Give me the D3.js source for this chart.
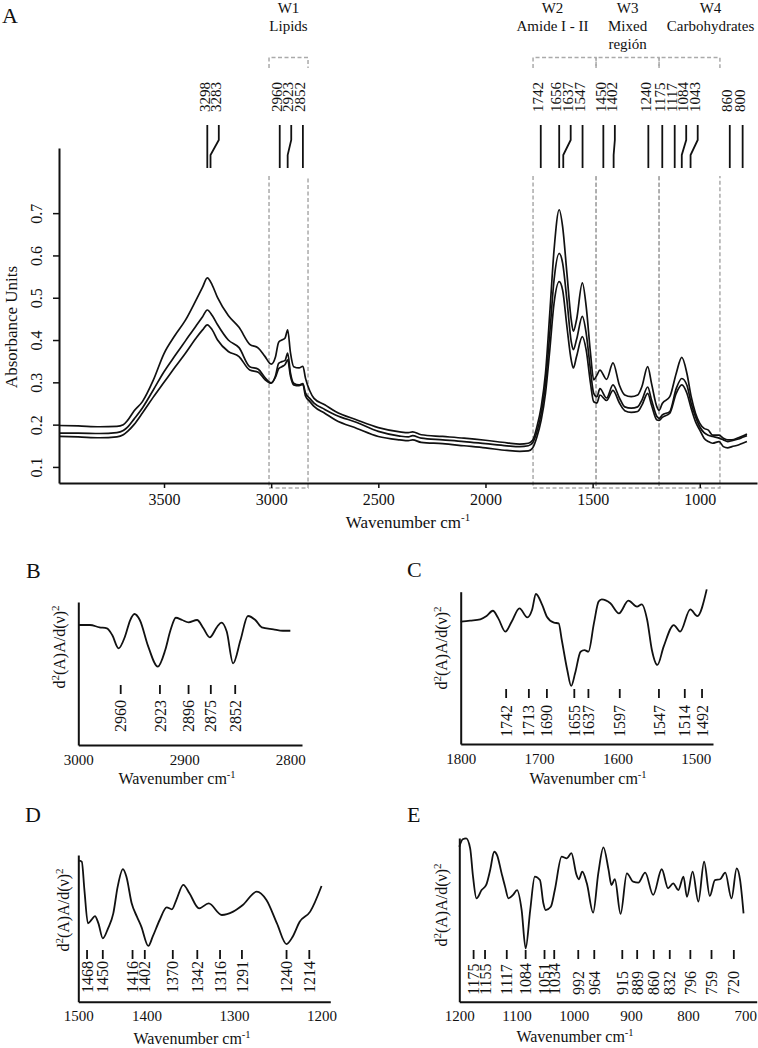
<!DOCTYPE html>
<html><head><meta charset="utf-8">
<script src="https://cdn.jsdelivr.net/npm/d3@7"></script>
<style>
html,body{margin:0;padding:0;background:#fff;}
svg{display:block;}
svg text{font-family:"Liberation Serif","Tinos","Times New Roman","DejaVu Serif","Noto Serif",serif;}
</style></head><body>
<svg id="fig" width="758" height="1048"></svg>
<script>
// ================= DATA =================
// Panel A: FTIR absorbance spectra (three samples)
const wavenumberA = [3990,3900,3800,3720,3690,3670,3640,3600,3550,3500,3450,3400,3350,3320,3298,3275,3250,3200,3150,3100,3060,3030,3000,2980,2965,2950,2935,2923,2910,2895,2870,2852,2840,2820,2800,2750,2700,2600,2500,2400,2360,2340,2300,2200,2100,2000,1900,1840,1800,1780,1760,1740,1720,1700,1680,1656,1640,1620,1600,1590,1575,1548,1530,1510,1495,1480,1466,1435,1405,1375,1350,1320,1290,1270,1243,1225,1200,1190,1175,1140,1110,1084,1060,1040,1020,1000,980,960,940,910,890,870,850,820,800,780];
const absorbance1 = [.198,.197,.195,.196,.200,.210,.232,.255,.305,.368,.410,.447,.495,.525,.547,.530,.500,.458,.430,.390,.381,.362,.343,.360,.395,.400,.405,.424,.370,.337,.334,.338,.310,.280,.262,.247,.231,.211,.193,.183,.181,.183,.176,.172,.168,.163,.157,.154,.156,.163,.195,.242,.321,.463,.613,.708,.668,.558,.448,.421,.448,.535,.479,.369,.306,.317,.329,.307,.346,.293,.270,.266,.270,.290,.337,.297,.242,.234,.250,.266,.321,.359,.321,.266,.227,.203,.191,.187,.175,.175,.168,.164,.164,.169,.173,.178];
const absorbance2 = [.180,.180,.179,.181,.186,.194,.213,.240,.282,.325,.362,.398,.434,.455,.471,.458,.436,.400,.382,.337,.331,.312,.299,.315,.345,.349,.352,.369,.322,.298,.294,.297,.275,.262,.251,.236,.223,.205,.184,.173,.171,.174,.168,.164,.160,.155,.150,.148,.150,.157,.183,.226,.297,.415,.542,.605,.582,.495,.397,.377,.401,.456,.416,.329,.274,.266,.285,.263,.294,.263,.242,.239,.242,.258,.289,.258,.219,.215,.223,.231,.285,.309,.293,.250,.219,.195,.181,.175,.172,.168,.164,.160,.162,.166,.170,.174];
const absorbance3 = [.172,.171,.169,.171,.176,.184,.200,.228,.265,.300,.335,.369,.405,.424,.436,.424,.400,.373,.361,.329,.324,.307,.298,.312,.332,.337,.342,.353,.315,.294,.292,.295,.268,.255,.243,.227,.211,.191,.172,.164,.162,.164,.158,.155,.150,.145,.139,.137,.138,.145,.171,.211,.274,.376,.487,.538,.518,.432,.353,.334,.361,.408,.376,.298,.254,.251,.270,.257,.281,.251,.233,.229,.231,.246,.274,.246,.211,.210,.217,.227,.274,.294,.274,.238,.207,.187,.168,.160,.156,.160,.148,.145,.148,.152,.156,.160];
const yTicksA = [0.1,0.2,0.3,0.4,0.5,0.6,0.7];
const xTicksA = [3500,3000,2500,2000,1500,1000];
const peaksA = [3298,3283,2960,2923,2852,1742,1656,1637,1547,1450,1402,1240,1175,1117,1084,1043,860,800];
const regionNames = ["W1","W2","W3","W4"];
const regionTitles = [["Lipids"],["Amide I - II"],["Mixed","región"],["Carbohydrates"]];
const regionStart = [3010,1778,1484,1190];
const regionEnd = [2828,1484,1190,906];

// Panel B: second derivative, 3000-2800
const wavenumberB = [3000,2989,2980,2973,2968,2962,2956,2951,2947,2942,2934,2925,2918,2913,2908,2902,2896,2888,2882,2876,2869,2865,2860,2854,2847,2840,2833,2827,2816,2807,2800];
const derivB = [.839,.839,.823,.816,.769,.676,.758,.874,.916,.874,.688,.548,.664,.804,.890,.874,.858,.874,.816,.753,.827,.856,.793,.571,.734,.902,.874,.823,.809,.799,.799];
const peaksB = [2960,2923,2896,2875,2852];
const xTicksB = [3000,2900,2800];

// Panel C: second derivative, 1800-1490
const wavenumberC = [1800,1788,1775,1767,1759,1752,1743,1735,1725,1715,1709,1704,1696,1690,1681,1675,1671,1664,1659,1654,1647,1642,1637,1630,1624,1620,1609,1598,1586,1575,1569,1562,1556,1549,1541,1528,1520,1507,1498,1486];
const derivC = [.803,.810,.819,.840,.875,.825,.738,.803,.891,.831,.880,.985,.913,.836,.797,.792,.683,.486,.381,.464,.606,.617,.606,.792,.935,.950,.924,.858,.941,.902,.917,.814,.617,.519,.639,.781,.738,.884,.840,1.015];
const peaksC = [1742,1713,1690,1655,1637,1597,1547,1514,1492];
const xTicksC = [1800,1700,1600,1500];

// Panel D: second derivative, 1480-1200
const wavenumberD = [1477,1474,1471,1467,1463,1459,1455,1450,1444,1438,1433,1427,1423,1417,1411,1406,1398,1393,1385,1377,1371,1366,1358,1351,1340,1329,1314,1301,1290,1274,1263,1251,1240,1233,1225,1213,1200];
const derivD = [.961,.954,.761,.534,.557,.584,.534,.432,.500,.602,.784,.904,.852,.671,.580,.512,.380,.443,.557,.643,.630,.693,.796,.739,.636,.670,.591,.614,.659,.750,.693,.534,.393,.443,.545,.614,.789];
const peaksD = [1468,1450,1416,1402,1370,1342,1316,1291,1240,1214];
const xTicksD = [1500,1400,1300,1200];

// Panel E: second derivative, 1200-700
const wavenumberE = [1200,1194,1188,1181,1176,1170,1161,1153,1146,1139,1134,1126,1120,1114,1106,1099,1091,1084,1076,1068,1059,1053,1049,1040,1033,1021,1012,1004,995,991,985,977,966,957,948,939,934,928,918,907,896,887,875,861,846,835,826,817,808,802,792,782,772,762,753,744,735,724,715,709,703];
const derivE = [.947,.992,.998,.937,.764,.631,.682,.713,.805,.916,.896,.784,.703,.631,.652,.682,.560,.326,.560,.764,.743,.601,.560,.580,.682,.886,.876,.907,.774,.748,.794,.723,.544,.784,.943,.805,.713,.748,.536,.784,.733,.727,.788,.652,.809,.693,.723,.682,.764,.641,.794,.611,.855,.646,.743,.748,.788,.631,.815,.743,.540];
const peaksE = [1175,1155,1117,1084,1051,1034,992,964,915,889,860,832,796,759,720];
const xTicksE = [1200,1100,1000,900,800,700];

// ================= DRAWING =================
const svg = d3.select("#fig");
const INK = "#111";

// ---------- Panel A ----------
const xA = d3.scaleLinear().domain([3990, 733]).range([59, 757]);
const yA = d3.scaleLinear().domain([0.062, 0.854]).range([483, 148]);
const gA = svg.append("g");

svg.append("text").attr("x", 2).attr("y", 23).attr("font-size", 22).attr("fill", INK).text("A");

// region boxes and brackets
const dashStyle = s => s.attr("fill","none").attr("stroke","#aaaaaa").attr("stroke-width",1.5).attr("stroke-dasharray","4,2.5");
const regionTitleShift = [0, -12, 0, 21];
regionNames.forEach((name, i) => {
  const x0 = xA(regionStart[i]), x1 = xA(regionEnd[i]);
  gA.append("path").attr("d", `M${x0},176V488H${x1}V176`).call(dashStyle);
  gA.append("path").attr("d", `M${x0},68V57.5H${x1}V68`).call(dashStyle);
  const cx = (x0 + x1) / 2 + regionTitleShift[i];
  const lines = [name].concat(regionTitles[i]);
  lines.forEach((t, j) => {
    gA.append("text").attr("x", cx).attr("y", 13 + j * 18).attr("text-anchor", "middle")
      .attr("font-size", 15).attr("fill", INK).text(t);
  });
});

// peak markers (spread labels apart when crowded)
let prevX = -Infinity;
const peakLayout = peaksA.map(p => {
  const dx = xA(p);
  const lx = Math.max(dx, prevX + 11.5);
  prevX = lx;
  return {p, dx, lx};
});
peakLayout.forEach(d => {
  gA.append("path").attr("d", `M${d.lx},125V140L${d.dx},155V168`)
    .attr("fill","none").attr("stroke",INK).attr("stroke-width",1.8);
  gA.append("text").attr("transform", `translate(${d.lx},112) rotate(-90)`)
    .attr("dy","0.15em").attr("font-size",15).attr("fill",INK).text(d.p);
});

// spectra
const lineA = d3.line().x(d => xA(d[0])).y(d => yA(d[1])).curve(d3.curveMonotoneX);
[absorbance1, absorbance2, absorbance3].forEach(series => {
  gA.append("path").datum(wavenumberA.map((w, i) => [w, series[i]]))
    .attr("d", lineA).attr("fill","none").attr("stroke",INK).attr("stroke-width",1.7);
});

// axes A
const axXA = gA.append("g").attr("transform","translate(0,483)")
  .call(d3.axisBottom(xA).tickValues(xTicksA).tickSize(5).tickSizeOuter(0).tickPadding(8).tickFormat(d3.format("d")));
const axYA = gA.append("g").attr("transform","translate(59,0)")
  .call(d3.axisLeft(yA).tickValues(yTicksA).tickSize(6).tickSizeOuter(0).tickFormat(d3.format(".1f")));
[axXA, axYA].forEach(ax => {
  ax.attr("font-family", null).attr("font-size", 16);
  ax.select(".domain").attr("stroke", INK).attr("stroke-width", 2);
  ax.selectAll(".tick line").attr("stroke", INK).attr("stroke-width", 1.5);
  ax.selectAll(".tick text").attr("fill", INK);
});
axXA.selectAll(".tick text").attr("y", 11).attr("dy", "0.71em");
axYA.selectAll(".tick text").attr("x", null).attr("dy", null)
  .attr("text-anchor","middle").attr("transform","translate(-17,0) rotate(-90)");

gA.append("text").attr("x", 408).attr("y", 528).attr("text-anchor","middle")
  .attr("font-size",17).attr("fill",INK)
  .call(t => { t.append("tspan").text("Wavenumber cm"); t.append("tspan").attr("dy",-7).attr("font-size",11).text("-1"); });
gA.append("text").attr("transform","translate(17,327) rotate(-90)").attr("text-anchor","middle")
  .attr("font-size",17).attr("fill",INK).text("Absorbance Units");

// ---------- Panels B-E ----------
function drawDerivPanel(cfg) {
  const g = svg.append("g");
  const x = d3.scaleLinear().domain(cfg.domain).range([cfg.left, cfg.right]).clamp(true);
  const y = d3.scaleLinear().domain([0, 1]).range([cfg.bottom, cfg.top]);

  svg.append("text").attr("x", cfg.letterX).attr("y", cfg.letterY).attr("font-size", 22).attr("fill", INK).text(cfg.letter);

  const ax = g.append("g").attr("transform", `translate(0,${cfg.bottom})`)
    .call(d3.axisBottom(x).tickValues(cfg.ticks).tickSize(0).tickSizeOuter(0).tickPadding(8).tickFormat(d3.format("d")));
  ax.attr("font-family", null).attr("font-size", 15);
  ax.select(".domain").attr("stroke", INK).attr("stroke-width", 2);
  ax.selectAll(".tick text").attr("fill", INK).attr("y", 9).attr("dy", "0.71em");

  const ay = g.append("g").attr("transform", `translate(${cfg.left},0)`)
    .call(d3.axisLeft(y).tickValues([]).tickSizeOuter(0));
  ay.select(".domain").attr("stroke", INK).attr("stroke-width", 2);

  const line = d3.line().x(d => x(d[0])).y(d => y(d[1])).curve(d3.curveMonotoneX);
  g.append("path").datum(cfg.wn.map((w, i) => [w, cfg.vals[i]]))
    .attr("d", line).attr("fill","none").attr("stroke",INK).attr("stroke-width",1.8);

  cfg.peaks.forEach(p => {
    const px = x(p);
    g.append("line").attr("x1",px).attr("x2",px).attr("y1",cfg.dashTop).attr("y2",cfg.dashTop+9)
      .attr("stroke",INK).attr("stroke-width",1.8);
    g.append("text").attr("transform",`translate(${px},${cfg.textStart}) rotate(-90)`)
      .attr("dy","0.35em").attr("font-size",16).attr("fill",INK).text(p);
  });

  g.append("text").attr("x", cfg.xTitleX).attr("y", cfg.bottom + cfg.xTitleDy).attr("text-anchor","middle")
    .attr("font-size",16).attr("fill",INK)
    .call(t => { t.append("tspan").text("Wavenumber cm"); t.append("tspan").attr("dy",-6).attr("font-size",10.5).text("-1"); });

  g.append("text").attr("transform",`translate(${cfg.yTitleX},${cfg.yTitleY}) rotate(-90)`).attr("text-anchor","middle")
    .attr("font-size",16).attr("fill",INK)
    .call(t => {
      t.append("tspan").text("d");
      t.append("tspan").attr("dy",-6).attr("font-size",11).text("2");
      t.append("tspan").attr("dy",6).text("(A)A/d(ν)");
      t.append("tspan").attr("dy",-6).attr("font-size",11).text("2");
    });
}

drawDerivPanel({letter:"B", letterX:26, letterY:578, domain:[3000,2789], left:78.3, right:302, top:602, bottom:745,
  wn:wavenumberB, vals:derivB, peaks:peaksB, ticks:xTicksB, dashTop:685, textStart:732, xTitleX:177, xTitleDy:39, yTitleX:65, yTitleY:647});
drawDerivPanel({letter:"C", letterX:407, letterY:577, domain:[1800,1478], left:460.7, right:713, top:591.7, bottom:744,
  wn:wavenumberC, vals:derivC, peaks:peaksC, ticks:xTicksC, dashTop:689, textStart:737, xTitleX:588, xTitleDy:40, yTitleX:447, yTitleY:648});
drawDerivPanel({letter:"D", letterX:25, letterY:822, domain:[1478,1190], left:78.3, right:330.3, top:855, bottom:1001.7,
  wn:wavenumberD, vals:derivD, peaks:peaksD, ticks:xTicksD, dashTop:950, textStart:993, xTitleX:192, xTitleDy:42, yTitleX:69, yTitleY:910});
drawDerivPanel({letter:"E", letterX:407, letterY:822, domain:[1200,680], left:459.3, right:756.7, top:838, bottom:1001.7,
  wn:wavenumberE, vals:derivE, peaks:peaksE, ticks:xTicksE, dashTop:950, textStart:995, xTitleX:575, xTitleDy:40, yTitleX:447, yTitleY:905});
</script>
</body></html>
